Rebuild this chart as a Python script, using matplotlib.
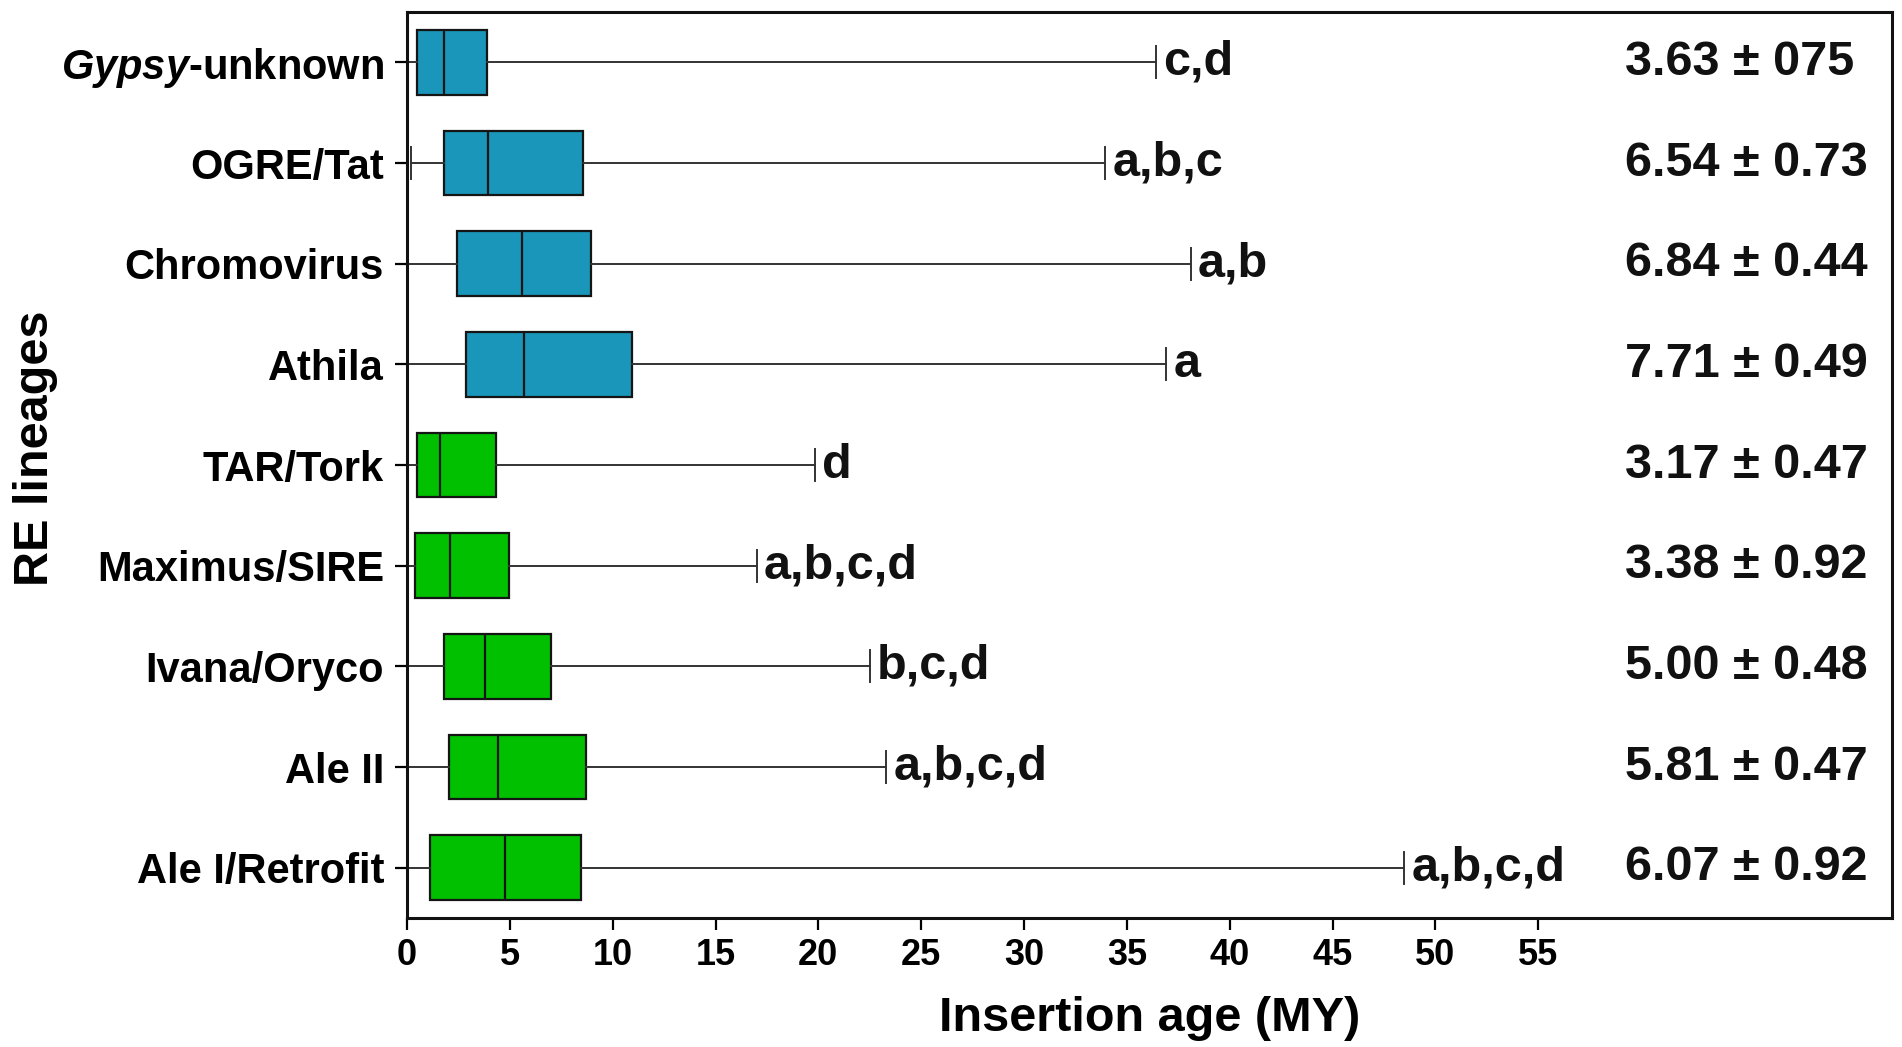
import numpy as np
import matplotlib
matplotlib.use('Agg')
import matplotlib.pyplot as plt

# insertion age of the retroelement lineages (million years)
linhagens = [r'$\mathbfit{Gypsy}$-unknown', 'OGRE/Tat', 'Chromovirus', 'Athila',
             'TAR/Tork', 'Maximus/SIRE', 'Ivana/Oryco', 'Ale II', 'Ale I/Retrofit']
whis_min = [0.0, 0.21, 0.0, 0.0, 0.0, 0.0, 0.0, 0.0, 0.0]
q1 = [0.47, 1.80, 2.43, 2.87, 0.47, 0.37, 1.80, 2.04, 1.10]
mediana = [1.80, 3.94, 5.60, 5.69, 1.60, 2.08, 3.78, 4.43, 4.77]
q3 = [3.91, 8.56, 8.95, 10.94, 4.31, 4.96, 7.00, 8.69, 8.45]
whis_max = [36.4, 33.95, 38.1, 36.9, 19.83, 17.0, 22.5, 23.3, 48.5]
letras = ['c,d', 'a,b,c', 'a,b', 'a', 'd', 'a,b,c,d', 'b,c,d', 'a,b,c,d', 'a,b,c,d']
medias = ['3.63 ± 075', '6.54 ± 0.73', '6.84 ± 0.44', '7.71 ± 0.49', '3.17 ± 0.47',
          '3.38 ± 0.92', '5.00 ± 0.48', '5.81 ± 0.47', '6.07 ± 0.92']
superfamilia = ['gypsy'] * 4 + ['copia'] * 5
ticks_x = list(range(0, 60, 5))

cores = {'gypsy': '#1996b9', 'copia': '#00c000'}

plt.rcParams['font.family'] = 'Liberation Sans'
plt.rcParams['mathtext.fontset'] = 'custom'
plt.rcParams['mathtext.rm'] = 'Liberation Sans:bold'
plt.rcParams['mathtext.bf'] = 'Liberation Sans:bold'
plt.rcParams['mathtext.it'] = 'Liberation Sans:italic'
plt.rcParams['mathtext.bfit'] = 'Liberation Sans:italic:bold'

fig = plt.figure(figsize=(19.02, 10.47), dpi=100)
ax = fig.add_axes([0.214, 0.1232, 0.7807, 0.8653])

stats = []
for i in range(len(linhagens)):
    stats.append({'med': mediana[i], 'q1': q1[i], 'q3': q3[i],
                  'whislo': whis_min[i], 'whishi': whis_max[i], 'fliers': []})

pos = np.arange(len(linhagens))
bp = ax.bxp(stats, positions=pos, vert=False, widths=0.64, showfliers=False,
            patch_artist=True,
            boxprops=dict(edgecolor='#151515', linewidth=1.6),
            medianprops=dict(color='#151515', linewidth=1.6),
            whiskerprops=dict(color='#333333', linewidth=1.4),
            capprops=dict(color='#333333', linewidth=1.4))
for caixa, sf in zip(bp['boxes'], superfamilia):
    caixa.set_facecolor(cores[sf])

for i in range(len(linhagens)):
    ax.text(whis_max[i] + 0.35, pos[i], letras[i], fontsize=35, fontweight='bold',
            ha='left', va='center', color='#111111')
    ax.text(59.2, pos[i], medias[i], fontsize=35, fontweight='bold',
            ha='left', va='center', color='#111111')

ax.set_xlim(0, 72.2)
ax.set_ylim(8.5, -0.5)
ax.set_xticks(ticks_x)
ax.set_xticklabels([str(t) for t in ticks_x], fontweight='bold')
ax.set_yticks(pos)
ax.set_yticklabels(linhagens, fontsize=30, fontweight='bold')
ax.tick_params(axis='x', direction='out', length=8.5, width=1.6, labelsize=26, pad=6)
ax.tick_params(axis='y', direction='out', length=8.5, width=1.6, pad=8)
for lado in ax.spines.values():
    lado.set_linewidth(2.2)
    lado.set_color('#111111')

ax.set_xlabel('Insertion age (MY)', fontsize=35, fontweight='bold', va='center')
ax.xaxis.set_label_coords(0.5, -0.111)
ax.set_ylabel('RE lineages', fontsize=35, fontweight='bold', va='center')
ax.yaxis.set_label_coords(-0.25, 0.518)

plt.savefig('out.png', dpi=100)
